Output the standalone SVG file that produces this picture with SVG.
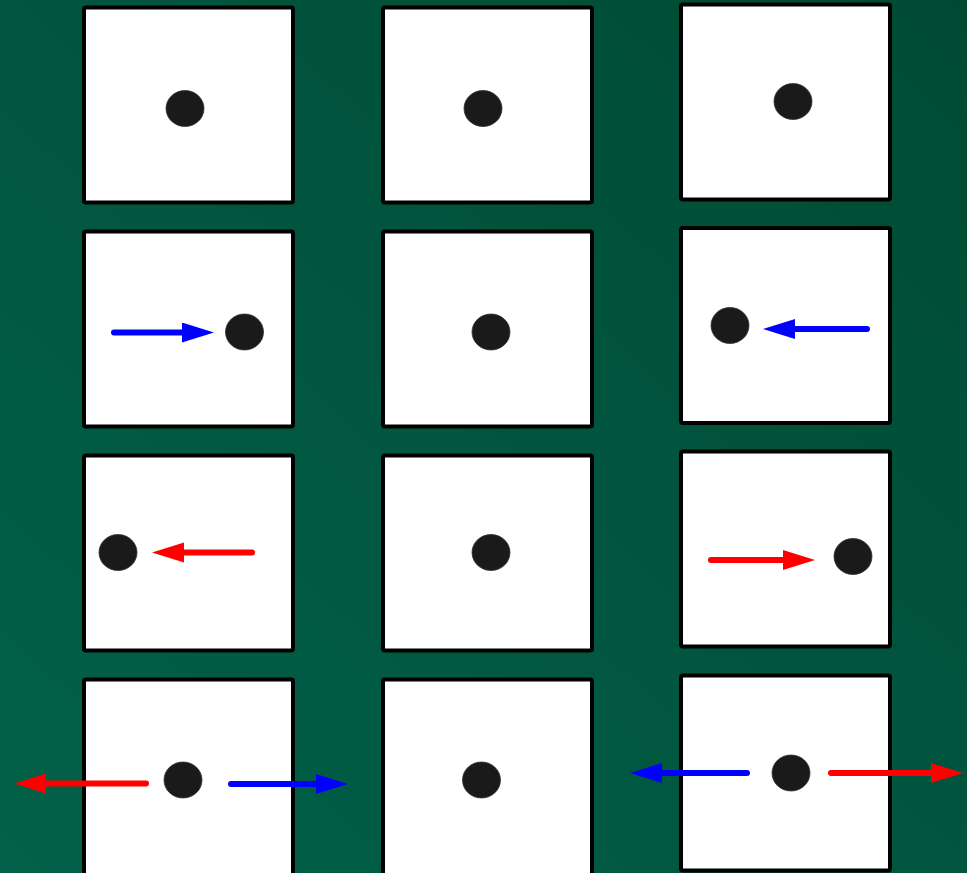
<svg xmlns="http://www.w3.org/2000/svg" width="967" height="873" viewBox="0 0 967 873">
  <defs>
    <linearGradient id="bg" x1="1" y1="0" x2="0" y2="1">
      <stop offset="0" stop-color="#004a33"/>
      <stop offset="1" stop-color="#02614a"/>
    </linearGradient>
    <marker id="hb" markerUnits="userSpaceOnUse" markerWidth="34" markerHeight="22" refX="10" refY="10" orient="auto" viewBox="0 0 34 22">
      <path d="M0,0 L32,10 L0,20 z" fill="#0000ff"/>
    </marker>
    <marker id="hr" markerUnits="userSpaceOnUse" markerWidth="34" markerHeight="22" refX="10" refY="10" orient="auto" viewBox="0 0 34 22">
      <path d="M0,0 L32,10 L0,20 z" fill="#ff0000"/>
    </marker>
  </defs>
  <style>
    .box { fill: #ffffff; stroke: #000000; stroke-width: 4; }
    .dot { fill: #1a1a1a; stroke: #333333; stroke-width: 0.8; }
    .b { stroke: #0000ff; stroke-width: 6; stroke-linecap: round; fill: none; marker-end: url(#hb); }
    .r { stroke: #ff0000; stroke-width: 6; stroke-linecap: round; fill: none; marker-end: url(#hr); }
  </style>
  <rect x="0" y="0" width="967" height="873" fill="url(#bg)"/>

  <g id="n1"><rect class="box" x="84" y="7.5" width="209" height="195" rx="2"/><ellipse class="dot" cx="185" cy="108.5" rx="19" ry="18"/></g>
  <g id="n2"><rect class="box" x="383" y="7.5" width="209" height="195" rx="2"/><ellipse class="dot" cx="483" cy="108.5" rx="19" ry="18"/></g>
  <g id="n3"><rect class="box" x="681" y="4.5" width="209" height="195" rx="2"/><ellipse class="dot" cx="793" cy="101.5" rx="19" ry="18"/></g>

  <g id="n4"><rect class="box" x="84" y="231.5" width="209" height="195" rx="2"/><ellipse class="dot" cx="244.5" cy="332" rx="19" ry="18"/></g>
  <g id="n5"><rect class="box" x="383" y="231.5" width="209" height="195" rx="2"/><ellipse class="dot" cx="491" cy="332" rx="19" ry="18"/></g>
  <g id="n6"><rect class="box" x="681" y="228" width="209" height="195" rx="2"/><ellipse class="dot" cx="730" cy="325.5" rx="19" ry="18"/></g>

  <g id="n7"><rect class="box" x="84" y="455.5" width="209" height="195" rx="2"/><ellipse class="dot" cx="118" cy="552.5" rx="19" ry="18"/></g>
  <g id="n8"><rect class="box" x="383" y="455.5" width="209" height="195" rx="2"/><ellipse class="dot" cx="491" cy="552.5" rx="19" ry="18"/></g>
  <g id="n9"><rect class="box" x="681" y="451.5" width="209" height="195" rx="2"/><ellipse class="dot" cx="853" cy="556.5" rx="19" ry="18"/></g>

  <g id="n10"><rect class="box" x="84" y="679.5" width="209" height="198" rx="2"/><ellipse class="dot" cx="183" cy="780" rx="19" ry="18"/></g>
  <g id="n11"><rect class="box" x="383" y="679.5" width="209" height="198" rx="2"/><ellipse class="dot" cx="481.5" cy="780" rx="19" ry="18"/></g>
  <g id="n12"><rect class="box" x="681" y="675.5" width="209" height="195" rx="2"/><ellipse class="dot" cx="791" cy="773" rx="19" ry="18"/></g>

  <g id="connectors">
    <line class="b" x1="114" y1="332.5" x2="192" y2="332.5"/>
    <line class="b" x1="867" y1="329" x2="785" y2="329"/>
    <line class="r" x1="252" y1="552.5" x2="174" y2="552.5"/>
    <line class="r" x1="711" y1="560" x2="793" y2="560"/>
    <line class="r" x1="146" y1="783.5" x2="36" y2="783.5"/>
    <line class="b" x1="231" y1="784" x2="326" y2="784"/>
    <line class="b" x1="747" y1="773" x2="652" y2="773"/>
    <line class="r" x1="831" y1="773" x2="941" y2="773"/>
  </g>
</svg>
